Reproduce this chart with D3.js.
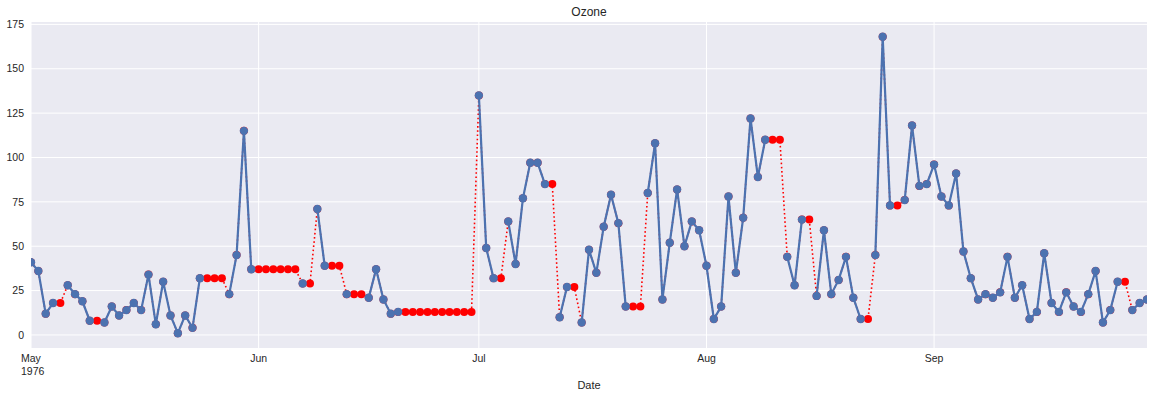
<!DOCTYPE html>
<html>
<head>
<meta charset="utf-8">
<script src="https://cdn.jsdelivr.net/npm/d3@7"></script>
<style>
  body { margin: 0; background: #fff; }
  text { font-family: "Liberation Sans", Arial, sans-serif; }
</style>
</head>
<body>
<div id="chart"></div>
<script>
// Ozone, daily from 1 May 1976 (null = missing)
const startDate = "1976-05-01";
const ozoneMay = [41, 36, 12, 18, null, 28, 23, 19, 8, null, 7, 16, 11, 14, 18, 14, 34, 6, 30, 11, 1, 11, 4, 32, null, null, null, 23, 45, 115, 37];
const ozoneJun = [null, null, null, null, null, null, 29, null, 71, 39, null, null, 23, null, null, 21, 37, 20, 12, 13, null, null, null, null, null, null, null, null, null, null];
const ozoneJul = [135, 49, 32, null, 64, 40, 77, 97, 97, 85, null, 10, 27, null, 7, 48, 35, 61, 79, 63, 16, null, null, 80, 108, 20, 52, 82, 50, 64, 59];
const ozoneAug = [39, 9, 16, 78, 35, 66, 122, 89, 110, null, null, 44, 28, 65, null, 22, 59, 23, 31, 44, 21, 9, null, 45, 168, 73, null, 76, 118, 84, 85];
const ozoneSep = [96, 78, 73, 91, 47, 32, 20, 23, 21, 24, 44, 21, 28, 9, 13, 46, 18, 13, 24, 16, 13, 23, 36, 7, 14, 30, null, 14, 18, 20];
const yTicks = [0, 25, 50, 75, 100, 125, 150, 175];
const monthTicks = ["1976-05-01", "1976-06-01", "1976-07-01", "1976-08-01", "1976-09-01"];
const monthLabels = ["May", "Jun", "Jul", "Aug", "Sep"];

const parse = d3.timeParse("%Y-%m-%d");
const t0 = parse(startDate);
const values = [].concat(ozoneMay, ozoneJun, ozoneJul, ozoneAug, ozoneSep);
const data = values.map((v, i) => ({ date: d3.timeDay.offset(t0, i), value: v }));

// forward fill for the imputed series
let last = null;
const filled = data.map(d => {
    if (d.value != null) last = d.value;
    return { date: d.date, value: last };
});

const W = 1154, H = 398;
const margin = { top: 22, right: 7, bottom: 50, left: 31 };
const width = W - margin.left - margin.right;
const height = H - margin.top - margin.bottom;

const svg = d3.select("#chart").append("svg")
    .attr("width", W).attr("height", H);

const g = svg.append("g").attr("transform", `translate(${margin.left},${margin.top})`);

const x = d3.scaleTime()
    .domain([data[0].date, data[data.length - 1].date])
    .range([0, width]);

const yMin = 1, yMax = 168, pad = (yMax - yMin) * 0.05;
const y = d3.scaleLinear().domain([yMin - pad, yMax + pad]).range([height, 0]);

g.append("rect").attr("width", width).attr("height", height).attr("fill", "#EAEAF2");

// grid
g.selectAll(".hg").data(yTicks).join("line")
    .attr("x1", 0).attr("x2", width)
    .attr("y1", d => y(d)).attr("y2", d => y(d))
    .attr("stroke", "#fff").attr("stroke-width", 1);
g.selectAll(".vg").data(monthTicks).join("line")
    .attr("x1", d => x(parse(d))).attr("x2", d => x(parse(d)))
    .attr("y1", 0).attr("y2", height)
    .attr("stroke", "#fff").attr("stroke-width", 1);

// y tick labels
g.selectAll(".yl").data(yTicks).join("text")
    .attr("x", -7).attr("y", d => y(d)).attr("dy", "0.35em")
    .attr("text-anchor", "end").attr("font-size", 10.5).attr("fill", "#262626")
    .text(d => d);

// x tick labels
g.selectAll(".xl").data(monthTicks).join("text")
    .attr("x", d => x(parse(d))).attr("y", height + 14)
    .attr("text-anchor", (d, i) => i === 0 ? "start" : "middle")
    .attr("dx", (d, i) => i === 0 ? -10 : 0)
    .attr("font-size", 10.5).attr("fill", "#262626")
    .text((d, i) => monthLabels[i]);
g.append("text")
    .attr("x", x(parse(monthTicks[0])) - 10).attr("y", height + 27)
    .attr("font-size", 10.5).attr("fill", "#262626")
    .text("1976");

g.append("text").attr("x", width / 2).attr("y", height + 41)
    .attr("text-anchor", "middle").attr("font-size", 11).attr("fill", "#262626")
    .text("Date");

svg.append("text").attr("x", margin.left + width / 2).attr("y", 16)
    .attr("text-anchor", "middle").attr("font-size", 12).attr("fill", "#262626")
    .text("Ozone");

const clip = g.append("clipPath").attr("id", "clip")
    .append("rect").attr("x", 0).attr("y", 0).attr("width", width).attr("height", height);
const plot = g.append("g").attr("clip-path", "url(#clip)");

const line = d3.line()
    .defined(d => d.value != null)
    .x(d => x(d.date))
    .y(d => y(d.value));

// imputed (red, dotted)
plot.append("path").datum(filled)
    .attr("fill", "none").attr("stroke", "red").attr("stroke-width", 1.6)
    .attr("stroke-dasharray", "1.6,2.6")
    .attr("d", line);
plot.selectAll(".rd").data(filled).join("circle")
    .attr("cx", d => x(d.date)).attr("cy", d => y(d.value))
    .attr("r", 4).attr("fill", "red");

// original (blue)
plot.append("path").datum(data)
    .attr("fill", "none").attr("stroke", "#4C72B0").attr("stroke-width", 2.2)
    .attr("d", line);
plot.selectAll(".bd").data(data.filter(d => d.value != null)).join("circle")
    .attr("cx", d => x(d.date)).attr("cy", d => y(d.value))
    .attr("r", 4.2).attr("fill", "#4C72B0");
</script>
</body>
</html>
